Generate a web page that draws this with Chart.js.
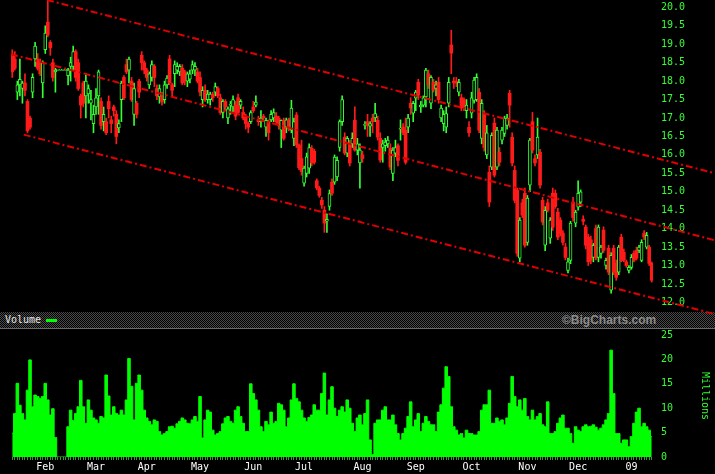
<!DOCTYPE html>
<html>
<head>
<meta charset="utf-8">
<script src="https://cdn.jsdelivr.net/npm/chart.js"></script>
<style>
  html, body { margin: 0; padding: 0; background: #000; }
  #wrap { position: relative; width: 715px; height: 474px; background: #000; overflow: hidden; }
  #band {
    position: absolute; left: 0; top: 312px; width: 715px; height: 16px;
    background: repeating-conic-gradient(#4a4a4a 0 25%, #000 0 50%) 0 0 / 2px 2px;
    border-bottom: 1px solid #6a6a6a;
  }
  #band .vol { position: absolute; left: 5px; top: 2px; color: #e8e8e8; font: 10px 'DejaVu Sans Mono', monospace; }
  #band .swatch { position: absolute; left: 46px; top: 7px; width: 11px; height: 3px; background: #00ff00; }
  #band .brand { position: absolute; left: 562px; top: 1px; color: #8c8c8c; font: bold 12px 'Liberation Sans', sans-serif; }
  #priceChart { position: absolute; left: 0; top: 0; z-index: 2; }
  #volChart { position: absolute; left: 0; top: 329px; }
</style>
</head>
<body>
<div id="wrap">
  <div id="band"><span class="vol">Volume</span><span class="swatch"></span><span class="brand">©BigCharts.com</span></div>
  <canvas id="priceChart" width="715" height="320"></canvas>
  <canvas id="volChart" width="715" height="145"></canvas>
</div>
<script>
// daily candles, Jan 2008 - Jan 2009
const opens = [
  18.7, 18.6, 17.7, 17.9, 17.8, 17.95, 17.45, 17.0, 17.7, 18.6,
  18.6, 18.5, 17.95, 18.85, 19.6, 19.05, 18.5, 18.25, 18.3, 18.3,
  18.3, 18.3, 18.15, 18.4, 18.4, 18.8, 18.5, 17.6, 17.95, 17.6,
  17.65, 17.4, 16.85, 17.3, 17.6, 17.45, 16.9, 16.9, 17.45, 16.95,
  17.3, 17.1, 16.73, 17.5, 18.1, 18.45, 18.3, 18.0, 17.1, 17.4,
  18.0, 18.7, 18.5, 18.3, 17.9, 18.1, 18.4, 17.8, 17.57, 17.6,
  17.5, 17.9, 18.6, 17.9, 18.2, 18.3, 18.25, 18.35, 18.25, 18.0,
  18.05, 18.3, 18.3, 18.25, 18.1, 17.5, 17.75, 17.5, 17.5, 17.65,
  17.7, 17.8, 17.55, 17.15, 17.45, 17.0, 17.35, 17.3, 17.35, 17.55,
  17.35, 17.15, 17.05, 16.85, 16.9, 17.3, 17.35, 16.95, 16.9, 17.05,
  16.75, 16.9, 16.95, 17.0, 17.05, 17.0, 16.67, 16.94, 16.75, 16.95,
  16.67, 16.45, 17.08, 16.27, 15.9, 15.23, 15.5, 15.64, 16.18, 16.1,
  15.3, 15.1, 14.77, 14.5, 14.2, 14.6, 15.26, 15.26, 15.4, 16.2,
  16.9, 16.48, 16.05, 16.3, 16.3, 16.94, 16.13, 15.78, 16.0, 16.8,
  16.9, 16.78, 17.0, 17.0, 16.94, 16.45, 16.2, 16.25, 16.3, 16.18,
  15.5, 16.05, 16.25, 16.7, 16.75, 16.67, 16.75, 17.4, 17.13, 17.54,
  17.97, 17.3, 17.35, 17.57, 18.2, 17.4, 17.97, 17.8, 17.97, 17.0,
  16.85, 16.75, 17.4, 18.98, 18.0, 18.0, 17.7, 17.55, 17.5, 17.2,
  16.75, 17.13, 17.48, 17.5, 17.7, 16.45, 17.08, 16.0, 15.53, 15.67,
  16.86, 15.67, 16.07, 16.4, 16.58, 16.8, 17.67, 16.48, 15.58, 15.04,
  13.2, 14.7, 14.96, 13.63, 15.18, 16.9, 15.9, 16.0, 16.07, 14.77,
  13.55, 14.7, 13.74, 14.96, 14.96, 14.45, 14.23, 13.88, 13.5, 12.87,
  13.14, 14.72, 14.15, 14.58, 14.72, 14.25, 14.04, 13.77, 13.7, 13.22,
  14.0, 13.22, 13.33, 13.96, 13.0, 13.47, 12.33, 13.47, 13.06, 12.82,
  13.77, 13.36, 13.1, 12.87, 12.95, 13.33, 13.41, 13.41, 13.14, 13.87,
  13.5, 13.5, 13.06
];
const highs = [
  18.85, 18.8, 18.0, 18.6, 18.0, 18.2, 17.5, 17.05, 18.2, 19.05,
  18.75, 18.6, 18.55, 19.5, 20.2, 19.1, 18.6, 18.35, 18.3, 18.3,
  18.3, 18.3, 18.35, 18.65, 18.95, 18.85, 18.6, 17.65, 18.0, 18.2,
  17.9, 17.75, 17.35, 17.8, 18.3, 17.55, 17.3, 17.0, 17.6, 17.05,
  17.35, 17.2, 16.95, 18.0, 18.15, 18.6, 18.65, 18.1, 17.95, 17.45,
  18.05, 18.8, 18.55, 18.35, 18.25, 18.55, 18.45, 17.9, 17.9, 17.7,
  18.0, 18.15, 18.7, 17.95, 18.55, 18.5, 18.45, 18.45, 18.3, 18.25,
  18.3, 18.55, 18.5, 18.35, 18.25, 17.85, 17.9, 17.75, 17.7, 17.7,
  17.95, 17.85, 17.65, 17.5, 17.5, 17.3, 17.45, 17.6, 17.45, 17.65,
  17.5, 17.3, 17.1, 16.9, 17.2, 17.45, 17.6, 17.05, 17.2, 17.1,
  17.0, 16.95, 17.2, 17.25, 17.15, 17.05, 16.95, 17.0, 17.0, 17.0,
  17.48, 17.0, 17.15, 16.3, 16.4, 15.7, 16.05, 16.3, 16.25, 16.15,
  15.35, 15.15, 14.85, 14.6, 14.4, 15.05, 15.35, 16.0, 15.95, 16.95,
  17.6, 16.6, 16.5, 16.4, 16.6, 17.3, 16.45, 16.3, 16.1, 16.9,
  17.1, 16.9, 17.1, 17.4, 17.05, 16.6, 16.4, 16.45, 16.5, 16.3,
  16.2, 16.4, 16.3, 16.95, 16.85, 17.0, 17.1, 17.55, 17.45, 17.75,
  18.05, 17.45, 17.6, 18.35, 18.3, 18.15, 18.05, 18.0, 18.1, 17.35,
  17.2, 17.3, 18.1, 19.38, 18.1, 18.1, 18.05, 17.65, 17.55, 17.5,
  16.9, 17.7, 18.1, 18.2, 17.8, 17.5, 17.2, 16.8, 15.7, 16.6,
  17.0, 16.75, 16.2, 16.75, 17.05, 17.1, 17.75, 16.6, 15.7, 15.1,
  14.3, 14.8, 15.1, 14.9, 16.45, 17.15, 16.0, 17.0, 16.15, 14.85,
  14.6, 14.8, 14.3, 15.1, 15.05, 14.55, 14.3, 13.95, 13.6, 13.2,
  14.2, 14.85, 14.5, 15.3, 15.05, 14.35, 14.1, 13.85, 13.8, 13.6,
  14.1, 14.1, 13.55, 14.05, 13.2, 13.55, 13.35, 13.55, 13.15, 13.55,
  13.85, 13.45, 13.15, 13.0, 13.3, 13.4, 13.5, 13.55, 13.7, 13.95,
  13.9, 13.55, 13.1
];
const lows = [
  18.1, 18.3, 17.5, 17.6, 17.4, 17.6, 16.6, 16.7, 17.55, 18.4,
  18.3, 18.15, 17.55, 18.75, 19.2, 18.7, 18.0, 17.7, 18.3, 18.3,
  18.3, 18.3, 17.9, 18.0, 18.3, 18.0, 17.75, 17.0, 17.3, 17.0,
  17.4, 16.95, 16.6, 17.1, 17.1, 16.7, 16.65, 16.55, 17.0, 16.6,
  17.05, 16.3, 16.6, 16.9, 17.5, 18.2, 17.95, 17.45, 16.8, 17.0,
  17.55, 18.3, 18.2, 18.0, 17.8, 18.0, 17.85, 17.5, 17.4, 17.35,
  17.4, 17.8, 17.9, 17.6, 17.85, 18.2, 18.15, 17.9, 17.9, 17.85,
  17.95, 18.2, 18.15, 17.95, 17.6, 17.3, 17.45, 17.4, 17.35, 17.45,
  17.6, 17.55, 17.1, 17.0, 17.2, 16.85, 17.1, 17.15, 16.95, 17.1,
  17.25, 16.95, 16.7, 16.6, 16.85, 17.15, 17.3, 16.8, 16.75, 16.9,
  16.5, 16.4, 16.9, 16.9, 16.85, 16.7, 16.2, 16.4, 16.6, 16.65,
  16.6, 16.25, 16.2, 15.6, 15.45, 15.15, 15.4, 15.5, 15.7, 15.75,
  15.05, 14.85, 14.55, 13.9, 13.9, 14.5, 14.9, 15.2, 15.3, 16.1,
  16.8, 16.0, 15.95, 15.7, 16.2, 16.1, 16.0, 15.1, 15.8, 16.7,
  16.5, 16.5, 16.6, 16.9, 16.4, 15.8, 15.8, 16.1, 16.2, 15.6,
  15.3, 15.95, 15.7, 16.4, 16.55, 15.75, 16.6, 17.1, 16.9, 17.2,
  17.5, 17.15, 17.3, 17.3, 17.8, 17.25, 17.7, 17.6, 17.4, 16.9,
  16.65, 16.6, 17.3, 18.2, 17.8, 17.85, 17.6, 17.2, 17.2, 17.0,
  16.5, 17.0, 17.4, 17.45, 16.6, 16.3, 16.1, 15.9, 14.6, 15.6,
  15.4, 15.6, 15.7, 16.3, 16.5, 16.7, 16.75, 15.7, 14.7, 13.25,
  13.1, 14.3, 13.5, 13.55, 15.0, 16.05, 15.7, 15.9, 15.1, 14.1,
  13.4, 14.45, 13.6, 13.95, 14.55, 13.7, 13.8, 13.55, 13.15, 12.8,
  13.05, 14.2, 14.05, 14.5, 14.6, 14.1, 13.45, 13.0, 13.05, 13.1,
  13.15, 13.1, 13.2, 13.35, 12.9, 12.75, 12.25, 12.75, 12.6, 12.75,
  13.1, 13.1, 12.95, 12.8, 12.9, 13.1, 13.15, 13.35, 13.1, 13.7,
  13.45, 13.0, 12.55
];
const closes = [
  18.25, 18.35, 17.9, 18.05, 17.95, 17.75, 16.65, 16.75, 18.1, 18.95,
  18.35, 18.2, 18.5, 19.3, 19.25, 18.9, 18.1, 18.3, 18.3, 18.3,
  18.3, 18.3, 18.3, 18.5, 18.8, 18.1, 17.8, 17.35, 17.4, 18.0,
  17.8, 17.5, 17.1, 17.55, 18.25, 16.8, 17.1, 16.6, 17.25, 16.85,
  17.2, 16.5, 16.85, 17.95, 17.55, 18.25, 18.6, 17.5, 17.8, 17.1,
  17.7, 18.5, 18.3, 18.1, 18.2, 18.45, 18.1, 17.6, 17.8, 17.45,
  17.9, 18.08, 17.95, 17.75, 18.45, 18.4, 18.4, 17.95, 18.0, 18.2,
  18.2, 18.45, 18.4, 18.0, 17.7, 17.75, 17.5, 17.65, 17.65, 17.55,
  17.85, 17.6, 17.15, 17.45, 17.3, 17.25, 17.38, 17.5, 17.05, 17.15,
  17.45, 17.0, 16.85, 16.75, 17.15, 17.2, 17.43, 16.9, 17.0, 17.0,
  16.94, 16.6, 17.1, 17.15, 16.9, 16.8, 16.94, 16.45, 16.95, 16.7,
  17.27, 16.9, 16.27, 15.65, 15.55, 15.64, 15.95, 16.2, 15.78, 15.8,
  15.1, 14.9, 14.64, 14.15, 14.25, 14.95, 14.96, 15.94, 15.85, 16.9,
  17.5, 16.05, 16.45, 15.78, 16.45, 16.13, 16.3, 16.13, 15.9, 16.82,
  16.8, 16.85, 16.9, 17.12, 16.48, 15.86, 16.3, 16.35, 16.4, 15.67,
  16.13, 16.2, 15.85, 16.72, 16.6, 15.8, 17.0, 17.27, 17.4, 17.7,
  17.62, 17.35, 17.55, 18.3, 17.9, 18.1, 17.76, 17.9, 17.5, 17.27,
  17.1, 17.12, 17.97, 18.76, 17.95, 17.95, 17.97, 17.27, 17.3, 17.35,
  16.6, 17.55, 18.03, 18.1, 16.67, 17.4, 16.2, 16.6, 14.72, 16.53,
  15.45, 16.67, 15.8, 16.67, 17.0, 17.0, 17.35, 15.78, 14.77, 13.33,
  14.23, 14.37, 13.55, 14.83, 16.4, 16.13, 15.78, 16.48, 15.18, 14.18,
  14.5, 14.5, 14.23, 14.04, 14.6, 13.77, 13.88, 13.63, 13.22, 13.1,
  14.15, 14.3, 14.45, 14.96, 15.0, 14.2, 13.55, 13.1, 13.14, 13.55,
  13.22, 14.04, 13.5, 13.41, 13.14, 12.82, 13.28, 12.82, 12.68, 13.5,
  13.14, 13.14, 13.0, 12.95, 13.22, 13.14, 13.2, 13.5, 13.63, 13.77,
  13.82, 13.06, 12.6
];
// volume, millions of shares
const volumes = [
  4.9, 8.9, 15.1, 10.6, 8.9, 7.6, 13.7, 19.9, 10.3, 12.7,
  12.4, 12.0, 12.4, 15.1, 11.7, 8.6, 9.9, 4.0, 0, 0,
  0, 0, 6.2, 9.6, 7.5, 8.9, 10.3, 15.7, 10.3, 6.9,
  11.7, 9.6, 8.0, 7.6, 6.9, 8.3, 8.0, 16.8, 12.5, 8.6,
  10.3, 8.9, 8.6, 9.6, 8.6, 11.7, 20.2, 14.5, 7.6, 15.1,
  16.8, 13.7, 9.6, 8.0, 7.3, 6.6, 7.6, 7.3, 5.2, 4.5,
  4.8, 5.2, 6.2, 6.3, 5.9, 6.8, 7.3, 8.0, 7.6, 6.9,
  6.8, 7.6, 8.3, 7.3, 12.4, 3.9, 7.6, 9.6, 9.2, 5.5,
  4.5, 4.8, 5.2, 6.8, 8.0, 8.3, 7.3, 6.9, 9.6, 10.3,
  8.3, 6.9, 5.2, 5.2, 15.0, 13.0, 11.7, 9.6, 6.2, 5.2,
  7.3, 6.6, 9.2, 6.9, 7.3, 11.0, 10.7, 9.6, 6.2, 8.0,
  11.7, 15.0, 12.0, 11.3, 9.6, 8.0, 7.3, 8.1, 8.6, 10.7,
  9.6, 9.6, 13.0, 17.2, 8.6, 11.7, 14.4, 10.0, 8.3, 9.6,
  10.3, 9.2, 11.7, 10.0, 6.9, 5.2, 8.0, 8.6, 6.6, 8.9,
  11.7, 3.5, 0.5, 6.9, 7.6, 7.6, 9.6, 10.3, 7.6, 7.6,
  8.6, 6.6, 4.8, 3.5, 4.8, 5.9, 8.3, 11.3, 6.2, 7.6,
  8.9, 5.2, 6.9, 8.3, 7.3, 6.6, 6.6, 5.2, 9.2, 10.7,
  14.1, 18.5, 16.5, 10.3, 6.2, 5.5, 4.5, 4.8, 3.9, 5.5,
  4.8, 4.8, 4.5, 4.5, 5.2, 9.6, 10.7, 10.7, 13.7, 6.9,
  6.9, 8.0, 7.3, 7.6, 6.6, 8.0, 11.0, 16.5, 12.4, 10.3,
  11.7, 9.6, 12.0, 8.3, 7.6, 9.6, 7.6, 8.3, 8.9, 6.6,
  6.2, 11.3, 4.8, 4.8, 5.2, 6.9, 8.0, 8.6, 5.9, 5.9,
  4.8, 2.8, 6.2, 5.5, 5.2, 6.2, 6.6, 6.2, 6.3, 6.6,
  6.1, 5.5, 5.9, 6.6, 7.6, 8.9, 21.9, 13.0, 4.8, 4.8,
  2.8, 3.5, 3.5, 2.1, 4.2, 6.9, 9.2, 10.0, 6.2, 6.9,
  6.2, 5.5, 4.2
];
// month labels and the day index where each month begins
const monthLabels = ['Feb', 'Mar', 'Apr', 'May', 'Jun', 'Jul', 'Aug', 'Sep', 'Oct', 'Nov', 'Dec', '09'];
const monthStarts = [13, 33, 53, 74, 95, 115, 138, 159, 181, 203, 223, 244];
// trend channel: [day index, price] at each end
const upperLine = [[13.7, 20.2], [277, 15.5]];
const middleLine = [[-0.5, 18.73], [277, 13.68]];
const lowerLine = [[4.5, 16.55], [277, 11.68]];

const upColor = '#33ff33';
const downColor = '#ff1a1a';
const lineColor = '#e00000';
const days = closes.map((c, i) => i);
const isUp = days.map(i => closes[i] >= opens[i]);

Chart.defaults.font.family = "'DejaVu Sans Mono', monospace";
Chart.defaults.font.size = 10;

const trend = pts => ({
  type: 'line',
  data: pts.map(p => ({x: p[0], y: p[1]})),
  borderColor: lineColor,
  borderWidth: 2,
  borderDash: [7, 3, 2, 3],
  pointRadius: 0,
  clip: false,
  order: 0
});

const priceChart = new Chart('priceChart', {
  type: 'bar',
  data: {
    datasets: [
      trend(upperLine),
      trend(middleLine),
      trend(lowerLine),
      {
        label: 'body',
        data: days.map(i => ({x: i, y: [opens[i], closes[i]]})),
        backgroundColor: days.map(i => isUp[i] ? '#000000' : downColor),
        borderColor: days.map(i => isUp[i] ? upColor : downColor),
        borderWidth: days.map(i => isUp[i] ? 1 : 0),
        borderSkipped: false,
        barThickness: 3,
        minBarLength: 1,
        grouped: false,
        order: 1
      },
      {
        label: 'wick',
        data: days.map(i => ({x: i, y: [lows[i], highs[i]]})),
        backgroundColor: days.map(i => isUp[i] ? upColor : downColor),
        borderWidth: 0,
        barThickness: 1,
        grouped: false,
        order: 2
      }
    ]
  },
  options: {
    responsive: false,
    animation: false,
    events: [],
    layout: { padding: { left: 11, top: 0, right: 0, bottom: 8 } },
    plugins: { legend: { display: false }, tooltip: { enabled: false } },
    scales: {
      x: { type: 'linear', display: false, offset: false, min: -0.5, max: closes.length - 0.5 },
      y: {
        position: 'right',
        min: 11.74,
        max: 20.2,
        grid: { display: false, drawTicks: false },
        border: { display: false },
        ticks: {
          stepSize: 0.5,
          includeBounds: false,
          padding: 8,
          color: upColor,
          callback: v => v.toFixed(1)
        },
        afterFit: s => { s.width = 62; s.paddingTop = 0; s.paddingBottom = 0; }
      }
    }
  }
});

const volChart = new Chart('volChart', {
  type: 'line',
  data: {
    datasets: [{
      data: days.map(i => ({x: i, y: volumes[i]})),
      stepped: 'middle',
      fill: 'origin',
      backgroundColor: '#00ff00',
      borderColor: '#00ff00',
      borderWidth: 1,
      pointRadius: 0
    }]
  },
  options: {
    responsive: false,
    animation: false,
    events: [],
    layout: { padding: { left: 11, top: 6, right: 0, bottom: 0 } },
    plugins: { legend: { display: false }, tooltip: { enabled: false } },
    scales: {
      x: {
        type: 'linear',
        offset: false,
        min: -0.5,
        max: closes.length - 0.5,
        afterBuildTicks: s => { s.ticks = days.map(i => ({value: i})); },
        afterFit: s => { s.height = 17; s.paddingLeft = 0; s.paddingRight = 0; },
        grid: { display: true, drawOnChartArea: false, drawTicks: true, tickLength: 3, color: '#3a9a3a' },
        border: { display: false },
        ticks: {
          autoSkip: false,
          maxRotation: 0,
          padding: 1,
          color: '#ffffff',
          callback: v => {
            const k = monthStarts.indexOf(v);
            return k >= 0 ? monthLabels[k] : '';
          }
        }
      },
      y: {
        position: 'right',
        min: 0,
        max: 25,
        grid: { display: false, drawTicks: false },
        border: { display: false },
        ticks: { stepSize: 5, padding: 8, color: upColor },
        title: { display: true, text: 'Millions', color: upColor, padding: { top: 4, bottom: 0 } },
        afterFit: s => { s.width = 62; s.paddingTop = 0; s.paddingBottom = 0; }
      }
    }
  }
});
</script>
</body>
</html>
